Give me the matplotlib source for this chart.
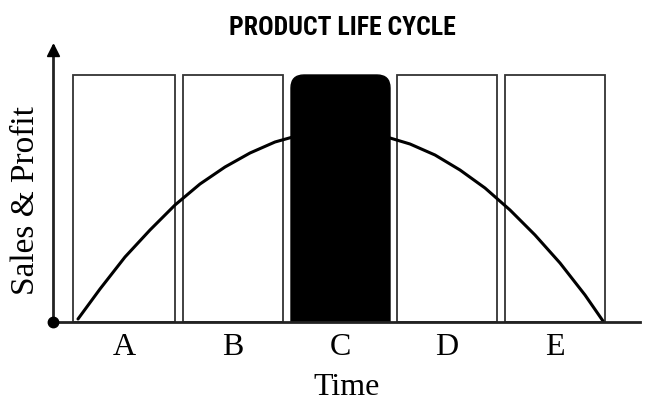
import matplotlib
matplotlib.use("Agg")
import matplotlib.pyplot as plt
from matplotlib.patches import FancyBboxPatch

stages = ['A', 'B', 'C', 'D', 'E']
stage_left = [0.20, 1.30, 2.38, 3.44, 4.52]
stage_width = [1.02, 1.00, 0.99, 1.00, 1.00]
stage_height = [2.47, 2.47, 2.47, 2.47, 2.47]
highlight = 'C'

# sales curve (time, sales)
time_pts = [0.25, 0.47, 0.72, 0.97, 1.22, 1.47, 1.72, 1.97, 2.22, 2.47, 2.87,
            3.27, 3.57, 3.82, 4.07, 4.32, 4.57, 4.82, 5.07, 5.32, 5.50]
sales_pts = [0.03, 0.33, 0.65, 0.92, 1.17, 1.38, 1.55, 1.69, 1.80, 1.87, 1.92,
             1.87, 1.78, 1.67, 1.52, 1.34, 1.12, 0.87, 0.59, 0.27, 0.01]

fig = plt.figure(figsize=(6.46, 4.02), dpi=100)
ax = fig.add_axes([53 / 646, 79 / 402, 587 / 646, 276 / 402])
ax.set_xlim(0, 5.87)
ax.set_ylim(0, 2.76)

edge = '#333333'
for name, left, w, h in zip(stages, stage_left, stage_width, stage_height):
    if name == highlight:
        box = FancyBboxPatch((left, -0.3), w, h + 0.3,
                             boxstyle='round,pad=0,rounding_size=0.13',
                             facecolor='black', edgecolor='black', lw=1,
                             zorder=4, mutation_aspect=1)
        ax.add_patch(box)
    else:
        ax.bar(left, h, width=w, align='edge', facecolor='white',
               edgecolor=edge, linewidth=1.3, zorder=2)

ax.plot(time_pts, sales_pts, color='black', lw=2.2, zorder=3,
        solid_capstyle='round')

for s in ['top', 'right']:
    ax.spines[s].set_visible(False)
for s in ['left', 'bottom']:
    ax.spines[s].set_linewidth(2)
    ax.spines[s].set_color('#222222')
    ax.spines[s].set_zorder(5)

ax.plot(0, 2.72, marker='^', ms=8, color='black', clip_on=False, zorder=6)
ax.plot(0, 0, marker='o', ms=7.5, color='black', clip_on=False, zorder=6)

centers = [l + w / 2 for l, w in zip(stage_left, stage_width)]
ax.set_xticks(centers)
ax.set_xticklabels(stages, family='Liberation Serif', fontsize=23)
ax.tick_params(axis='x', length=0, pad=7)
ax.set_yticks([])

ax.set_xlabel('Time', family='Liberation Serif', fontsize=23, labelpad=8)
ax.set_ylabel('Sales & Profit', family='Liberation Serif', fontsize=24)
ax.yaxis.set_label_coords(-0.020, 0.445)

fig.text(342 / 646, 1 - 28 / 402, 'PRODUCT LIFE CYCLE',
         family=['Roboto Condensed', 'DejaVu Sans'],
         fontweight='bold', fontsize=18.5, ha='center', va='center')

fig.savefig('out.png', dpi=100)
